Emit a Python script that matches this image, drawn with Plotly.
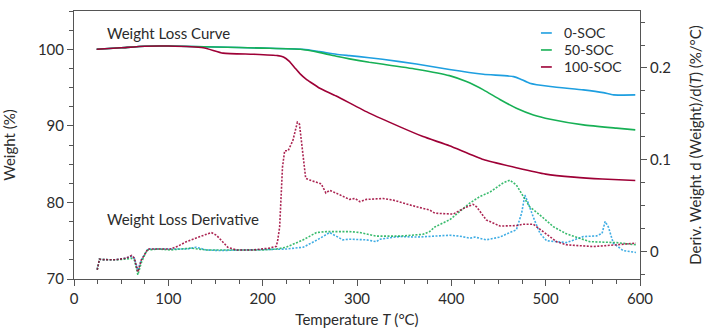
import plotly.graph_objects as go

# ---------------- data ----------------
series_names = ["0-SOC", "50-SOC", "100-SOC"]
colors = ["#1e9fe0", "#17b055", "#9e0036"]

# Weight loss curves (Weight %, left axis)
t_w0 = [24, 50, 75, 100, 150, 200, 243, 260, 278, 292, 313, 327, 363, 398, 434, 466, 473, 483, 505, 540, 561, 572, 595]
w0 = [100.0, 100.2, 100.4, 100.42, 100.3, 100.15, 100.0, 99.7, 99.35, 99.17, 98.9, 98.7, 98.08, 97.35, 96.74, 96.43, 96.13, 95.57, 95.13, 94.7, 94.34, 94.04, 94.04]

t_w50 = [24, 50, 75, 100, 150, 200, 240, 261, 278, 292, 313, 328, 363, 398, 416, 434, 451, 469, 487, 505, 540, 575, 595]
w50 = [100.0, 100.2, 100.4, 100.42, 100.3, 100.15, 100.0, 99.56, 99.1, 98.75, 98.3, 98.04, 97.4, 96.56, 95.78, 94.7, 93.48, 92.3, 91.43, 90.87, 90.13, 89.7, 89.48]

t_w100 = [24, 50, 75, 100, 137, 158, 190, 216, 222, 228, 234, 240, 246, 252, 260, 278, 313, 345, 370, 398, 434, 470, 500, 530, 560, 595]
w100 = [100.0, 100.2, 100.4, 100.42, 100.2, 99.5, 99.35, 99.17, 99.0, 98.45, 97.6, 96.75, 96.1, 95.6, 94.95, 93.9, 91.66, 89.9, 88.6, 87.4, 85.6, 84.5, 83.7, 83.3, 83.05, 82.87]

# Derivative curves (%/°C, right axis)
t_d0 = [24.6, 27, 30, 44, 55, 61, 64, 67.7, 71.3, 76, 78.3, 90, 102, 120, 129.6, 140, 154, 180, 207, 225, 243, 258, 271, 285, 292, 310, 320.6, 324, 345, 363.6, 398.4, 409, 419.6, 425, 437, 451.5, 462, 469, 474.5, 478, 481.5, 486.8, 494, 501, 522, 540, 554, 559.8, 563, 566.5, 571.7, 582, 595.7]
d0 = [-0.0195, -0.008, -0.0085, -0.0087, -0.007, -0.005, -0.007, -0.02, -0.009, 0.0, 0.003, 0.003, 0.003, 0.003, 0.005, 0.002, 0.0014, 0.002, 0.002, 0.003, 0.005, 0.013, 0.021, 0.013, 0.0137, 0.013, 0.011, 0.0137, 0.0166, 0.016, 0.018, 0.017, 0.0148, 0.016, 0.013, 0.016, 0.021, 0.024, 0.042, 0.0617, 0.053, 0.038, 0.02, 0.012, 0.01, 0.0166, 0.0173, 0.02, 0.033, 0.027, 0.0094, 0.0014, -0.0008]

t_d50 = [24.6, 27, 30, 44, 55, 61, 64, 67.7, 71.3, 76, 78.3, 90, 102, 124, 140, 170, 200, 215, 225, 243, 257, 267.6, 292, 303, 320.6, 345, 370, 377, 382.5, 398.5, 419.6, 430, 441, 455, 462, 469, 476, 483, 494, 508, 522, 540, 547, 575, 595.7]
d50 = [-0.0195, -0.008, -0.0085, -0.0087, -0.008, -0.007, -0.009, -0.025, -0.012, -0.001, 0.002, 0.003, 0.002, 0.004, 0.002, 0.002, 0.002, 0.003, 0.005, 0.013, 0.021, 0.022, 0.022, 0.021, 0.017, 0.017, 0.019, 0.022, 0.027, 0.035, 0.053, 0.06, 0.065, 0.075, 0.078, 0.0726, 0.06, 0.049, 0.04, 0.0274, 0.0195, 0.013, 0.011, 0.01, 0.0076]

t_d100 = [24.6, 27, 30, 44, 55, 61, 64, 67.7, 71.3, 76, 78.3, 90, 102, 110, 119, 145.5, 151, 163, 172, 190, 207, 214.5, 216, 218, 221, 223.3, 227, 232, 236.8, 239, 242, 245.6, 250, 257, 262, 267, 271, 281.7, 292, 298, 303, 310, 327.6, 338, 349, 363, 377, 382.5, 402, 412.5, 423, 426.7, 437, 451.5, 469, 476, 486.8, 497.4, 511.6, 522, 550.5, 575, 595.7]
d100 = [-0.0195, -0.008, -0.0085, -0.0087, -0.007, -0.004, -0.0068, -0.022, -0.009, 0.0, 0.003, 0.003, 0.003, 0.006, 0.011, 0.021, 0.018, 0.005, 0.002, 0.002, 0.004, 0.006, 0.013, 0.027, 0.092, 0.11, 0.11, 0.121, 0.141, 0.139, 0.11, 0.08, 0.078, 0.076, 0.074, 0.064, 0.067, 0.062, 0.057, 0.058, 0.0545, 0.057, 0.058, 0.0563, 0.053, 0.049, 0.0455, 0.042, 0.041, 0.047, 0.0516, 0.049, 0.0347, 0.028, 0.0285, 0.03, 0.03, 0.022, 0.011, 0.0076, 0.0057, 0.0076, 0.0094]

x_ticks = [0, 100, 200, 300, 400, 500, 600]
y_ticks = [70, 80, 90, 100]
y2_ticks = [0, 0.1, 0.2]

FONT = "Lato"
TXT = "#2b2b2b"
AX = "#555555"

fig = go.Figure()

weights = [(t_w0, w0), (t_w50, w50), (t_w100, w100)]
derivs = [(t_d0, d0), (t_d50, d50), (t_d100, d100)]

for name, col, (t, d) in zip(series_names, colors, derivs):
    fig.add_trace(go.Scatter(x=t, y=d, yaxis="y2", mode="lines", name=name + " deriv",
                             line=dict(color=col, width=1.6, dash="2px,1.5px"),
                             showlegend=False, opacity=0.85))

for name, col, (t, w) in zip(series_names, colors, weights):
    fig.add_trace(go.Scatter(x=t, y=w, mode="lines", name=name,
                             line=dict(color=col, width=1.6, shape="spline", smoothing=0.5),
                             showlegend=False))

# manual legend (short line samples + labels)
leg_y = [102.13, 99.91, 97.69]
for name, col, yy in zip(series_names, colors, leg_y):
    fig.add_shape(type="line", xref="x", yref="y", x0=495, x1=506.5, y0=yy, y1=yy,
                  line=dict(color=col, width=1.6))
    fig.add_annotation(x=518, y=yy, xref="x", yref="y", text=name, showarrow=False,
                       xanchor="left", yanchor="middle", borderpad=0,
                       font=dict(family=FONT, size=14, color=TXT))

fig.add_annotation(x=32.4, y=102.1, xref="x", yref="y", text="Weight Loss Curve",
                   showarrow=False, xanchor="left", yanchor="middle",
                   font=dict(family=FONT, size=15, color=TXT))
fig.add_annotation(x=32.4, y=77.8, xref="x", yref="y", text="Weight Loss Derivative",
                   showarrow=False, xanchor="left", yanchor="middle",
                   font=dict(family=FONT, size=15, color=TXT))

fig.update_layout(
    width=707, height=329,
    margin=dict(l=74, r=67, t=11, b=50, autoexpand=False),
    paper_bgcolor="white", plot_bgcolor="white",
    font=dict(family=FONT, size=15, color=TXT),
    showlegend=False,
    xaxis=dict(range=[0, 600], tickvals=x_ticks, ticks="outside", ticklen=6, tickcolor=AX,
               showline=True, linecolor=AX, linewidth=1, mirror=True, showgrid=False,
               zeroline=False, automargin=False,
               minor=dict(dtick=25, ticks="outside", ticklen=4, tickcolor=AX),
               tickfont=dict(family=FONT, size=15, color=TXT),
               title=dict(text="Temperature <i>T</i> (°C)", standoff=8,
                          font=dict(family=FONT, size=15, color=TXT))),
    yaxis=dict(range=[70, 105], tickvals=y_ticks, ticks="outside", ticklen=6, tickcolor=AX,
               showline=True, linecolor=AX, linewidth=1, mirror=True, showgrid=False,
               zeroline=False, automargin=False,
               minor=dict(dtick=2.5, ticks="outside", ticklen=4, tickcolor=AX),
               tickfont=dict(family=FONT, size=15, color=TXT),
               title=dict(text="Weight (%)", standoff=18,
                          font=dict(family=FONT, size=15, color=TXT))),
    yaxis2=dict(range=[-0.0296, 0.262], overlaying="y", side="right",
                tickvals=y2_ticks, ticktext=["0", "0.1", "0.2"],
                ticks="outside", ticklen=6, tickcolor=AX,
                showline=True, linecolor=AX, linewidth=1, showgrid=False, zeroline=False,
                automargin=False,
                minor=dict(dtick=0.025, ticks="outside", ticklen=4, tickcolor=AX),
                tickfont=dict(family=FONT, size=15, color=TXT),
                title=dict(text="Deriv. Weight d (Weight)/d(<i>T</i>) (%/°C)", standoff=20,
                           font=dict(family=FONT, size=15, color=TXT))),
)

fig.write_html("out.html")
